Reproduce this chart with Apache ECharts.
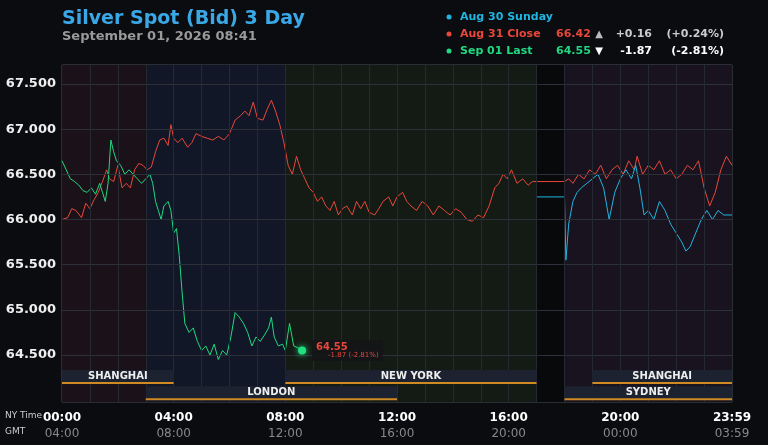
<!DOCTYPE html>
<html><head><meta charset="utf-8">
<script src="https://cdn.jsdelivr.net/npm/echarts@6/dist/echarts.min.js"></script>
<style>html,body{margin:0;padding:0;background:#0b0c10}#c{width:768px;height:445px}</style>
</head><body><div id="c"></div>
<script>
const yTicks=[64.5,65.0,65.5,66.0,66.5,67.0,67.5];
const xTickHours=[0,4,8,12,16,20,24];
const redClose=[[0,66.0],[.2,66.02],[.35,66.12],[.5,66.1],[.7,66.02],[.85,66.18],[1.0,66.12],[1.15,66.22],[1.3,66.3],[1.45,66.42],[1.6,66.55],[1.7,66.45],[1.85,66.42],[2.0,66.6],[2.15,66.35],[2.3,66.4],[2.45,66.35],[2.6,66.55],[2.75,66.62],[2.9,66.6],[3.05,66.55],[3.2,66.58],[3.35,66.75],[3.5,66.88],[3.65,66.9],[3.8,66.82],[3.9,67.05],[4.0,66.9],[4.15,66.85],[4.3,66.9],[4.5,66.8],[4.65,66.85],[4.8,66.95],[5.0,66.92],[5.2,66.9],[5.4,66.88],[5.6,66.92],[5.8,66.88],[6.0,66.95],[6.2,67.1],[6.4,67.15],[6.55,67.2],[6.7,67.15],[6.85,67.3],[7.0,67.12],[7.2,67.1],[7.35,67.22],[7.5,67.32],[7.65,67.2],[7.8,67.05],[7.95,66.85],[8.1,66.6],[8.25,66.5],[8.4,66.7],[8.55,66.55],[8.7,66.45],[8.85,66.35],[9.0,66.3],[9.15,66.2],[9.3,66.25],[9.45,66.15],[9.6,66.1],[9.75,66.2],[9.9,66.05],[10.05,66.12],[10.2,66.15],[10.4,66.05],[10.55,66.2],[10.7,66.12],[10.85,66.2],[11.0,66.08],[11.2,66.05],[11.35,66.12],[11.5,66.2],[11.7,66.25],[11.85,66.15],[12.0,66.25],[12.2,66.3],[12.35,66.2],[12.5,66.15],[12.7,66.1],[12.9,66.2],[13.1,66.15],[13.3,66.05],[13.5,66.15],[13.7,66.1],[13.9,66.05],[14.1,66.12],[14.3,66.08],[14.5,66.0],[14.7,65.98],[14.9,66.05],[15.1,66.02],[15.3,66.15],[15.5,66.35],[15.65,66.4],[15.8,66.5],[15.95,66.45],[16.1,66.55],[16.3,66.4],[16.5,66.45],[16.7,66.38],[16.85,66.42],[17.0,66.42],[18.0,66.42],[18.15,66.45],[18.3,66.4],[18.5,66.5],[18.7,66.45],[18.9,66.55],[19.1,66.5],[19.3,66.6],[19.5,66.45],[19.7,66.55],[19.9,66.6],[20.1,66.5],[20.3,66.65],[20.5,66.55],[20.6,66.7],[20.8,66.5],[21.0,66.6],[21.2,66.55],[21.4,66.65],[21.6,66.5],[21.8,66.55],[22.0,66.45],[22.2,66.5],[22.4,66.6],[22.6,66.55],[22.8,66.65],[23.0,66.35],[23.2,66.15],[23.4,66.3],[23.6,66.55],[23.8,66.7],[24,66.6]];
const greenLast=[[0,66.65],[.15,66.55],[.3,66.45],[.45,66.42],[.6,66.38],[.75,66.32],[.9,66.3],[1.05,66.35],[1.2,66.28],[1.35,66.4],[1.45,66.3],[1.55,66.2],[1.65,66.4],[1.75,66.88],[1.85,66.75],[1.95,66.65],[2.1,66.6],[2.25,66.5],[2.4,66.55],[2.55,66.5],[2.7,66.45],[2.85,66.4],[3.0,66.45],[3.15,66.5],[3.25,66.4],[3.35,66.2],[3.45,66.1],[3.55,66.0],[3.65,66.15],[3.8,66.2],[3.9,66.1],[4.0,65.85],[4.1,65.9],[4.2,65.6],[4.3,65.2],[4.4,64.85],[4.55,64.75],[4.7,64.8],[4.85,64.65],[5.0,64.55],[5.15,64.6],[5.3,64.5],[5.45,64.62],[5.6,64.45],[5.75,64.55],[5.9,64.5],[6.05,64.7],[6.2,64.97],[6.35,64.92],[6.5,64.85],[6.65,64.75],[6.8,64.6],[6.95,64.7],[7.1,64.65],[7.25,64.72],[7.4,64.8],[7.5,64.92],[7.6,64.7],[7.75,64.6],[7.9,64.62],[8.0,64.55],[8.15,64.85],[8.3,64.6],[8.45,64.58],[8.6,64.55]];
const cyanSunday=[[17,66.25],[18,66.25],[18.05,65.55],[18.15,65.95],[18.3,66.2],[18.45,66.3],[18.6,66.35],[18.8,66.4],[19.0,66.45],[19.2,66.5],[19.4,66.35],[19.6,66.0],[19.8,66.3],[20.0,66.45],[20.2,66.55],[20.4,66.45],[20.55,66.6],[20.7,66.35],[20.85,66.05],[21.0,66.1],[21.2,66.0],[21.4,66.2],[21.6,66.1],[21.8,65.95],[22.0,65.85],[22.2,65.75],[22.35,65.65],[22.5,65.7],[22.7,65.85],[22.9,66.0],[23.1,66.1],[23.3,66.0],[23.5,66.1],[23.7,66.05],[24,66.05]];
const sessions=[["SHANGHAI",0,4,0],["NEW YORK",8,17,0],["SHANGHAI",19,24,0],["LONDON",3,12,1],["SYDNEY",18,24,1]];
const sessionRowY=[64.18,64.0];
const bgZones=[[0,3,'#1b1219'],[3,8,'#111726'],[8,17,'#141b14'],[17,18,'#08090b'],[18,24,'#18131f']];
const hourLines=[1,2,3,4,5,6,7,8,9,10,11,12,13,14,15,16,17,18,19,20,21,22,23];
const fmt=h=>h===24?'23:59':String(h%24).padStart(2,'0')+':00';
const gmt=h=>h===24?'03:59':String((h+4)%24).padStart(2,'0')+':00';
const c=echarts.init(document.getElementById('c'));
const F='DejaVu Sans';
const T=(x,y,text,fill,font,align)=>({type:'text',x:x,y:y,style:{text:text,fill:fill,font:font,textAlign:align||'left',textVerticalAlign:'middle'}});
c.setOption({
 backgroundColor:'#0b0c10',animation:false,
 textStyle:{fontFamily:F},
 grid:{left:62,right:36,top:65,bottom:43,show:true,borderColor:'#4a4e58',borderWidth:1},
 xAxis:{type:'value',min:0,max:24,interval:1,axisLine:{show:false},axisTick:{show:false},
  splitLine:{show:false},
  axisLabel:{margin:8,formatter:v=>xTickHours.includes(v)?'{a|'+fmt(v)+'}\n{b|'+gmt(v)+'}':'',
   rich:{a:{color:'#fff',fontWeight:'bold',fontSize:12,fontFamily:F,lineHeight:16},b:{color:'#888',fontSize:12,fontFamily:F,lineHeight:16}}}},
 yAxis:{type:'value',min:63.98,max:67.71,splitLine:{show:false},axisLine:{show:false},axisTick:{show:false},axisLabel:{show:false}},
 graphic:[
  T(62,19,'Silver Spot (Bid) 3 Day','#3aa8e6','bold 19px DejaVu Sans'),
  T(62,37,'September 01, 2026 08:41','#9a9a9a','bold 13px DejaVu Sans'),
  {type:'circle',shape:{cx:449,cy:17,r:2.5},style:{fill:'#1fb5e0'}},
  {type:'circle',shape:{cx:449,cy:34,r:2.5},style:{fill:'#e8473a'}},
  {type:'circle',shape:{cx:449,cy:51,r:2.5},style:{fill:'#20d880'}},
  T(460,17,'Aug 30 Sunday','#1fb5e0','bold 11px DejaVu Sans'),
  T(460,34,'Aug 31 Close','#e8473a','bold 11px DejaVu Sans'),
  T(460,51,'Sep 01 Last','#20d880','bold 11px DejaVu Sans'),
  T(556,34,'66.42','#e8473a','bold 11px DejaVu Sans'),
  T(556,51,'64.55','#20d880','bold 11px DejaVu Sans'),
  T(599,34,'▲','#bbb','10px DejaVu Sans','center'),
  T(599,51,'▼','#fff','10px DejaVu Sans','center'),
  T(652,34,'+0.16','#ccc','bold 11px DejaVu Sans','right'),
  T(652,51,'-1.87','#fff','bold 11px DejaVu Sans','right'),
  T(724,34,'(+0.24%)','#ccc','bold 11px DejaVu Sans','right'),
  T(724,51,'(-2.81%)','#fff','bold 11px DejaVu Sans','right'),
  T(70,76,'USD/oz','#bbb','bold 10px DejaVu Sans'),
  T(722,76,'3 Day - High: 67.59  Low: 64.35','#aaa','bold 11px DejaVu Sans','right'),
  T(722,352,'kitco.com','#4a94d8','bold 20px DejaVu Sans','right'),
  T(5,416,'NY Time','#ccc','9px DejaVu Sans'),
  T(5,432,'GMT','#ccc','9px DejaVu Sans')
 ],
 series:[
  {type:'line',data:redClose,symbol:'none',lineStyle:{color:'#e8473a',width:1},z:3,
   markArea:{silent:true,data:bgZones.map(z=>[{xAxis:z[0],itemStyle:{color:z[2]}},{xAxis:z[1]}])},
   markLine:{silent:true,symbol:'none',label:{show:true,position:'start',distance:6,color:'#eee',fontWeight:'bold',fontSize:13,fontFamily:F,formatter:p=>p.value.toFixed(3)},
    lineStyle:{color:'#2c3039',type:'solid',width:1},
    data:yTicks.map(v=>({yAxis:v})).concat(hourLines.map(h=>({xAxis:h,label:{show:false},lineStyle:{color:'#252932',type:'solid',width:1}})))}},
  {type:'line',data:cyanSunday,symbol:'none',lineStyle:{color:'#1fb5e0',width:1},z:3},
  {type:'line',data:greenLast,symbol:'none',lineStyle:{color:'#20d880',width:1},z:4,
   markPoint:{symbol:'circle',symbolSize:8,itemStyle:{color:'#20e080',shadowBlur:6,shadowColor:'#20e080'},
    data:[{coord:greenLast[greenLast.length-1],
     label:{show:true,position:'right',distance:6,backgroundColor:'rgba(20,20,22,0.85)',padding:[2,4],
      formatter:'{a|64.55}\n{b|-1.87 (-2.81%)}',rich:{a:{color:'#e8473a',fontWeight:'bold',fontSize:10,fontFamily:F},b:{color:'#e8473a',fontSize:7,fontFamily:F,padding:[0,0,0,12]}}}}]}},
  {type:'custom',data:sessions.map(s=>[s[1],s[2],s[3]]),z:5,silent:true,
   renderItem:(p,api)=>{
    const i=p.dataIndex, s=sessions[i];
    const a=api.coord([api.value(0),sessionRowY[api.value(2)]]);
    const b=api.coord([api.value(1),sessionRowY[api.value(2)]]);
    return {type:'group',children:[
     {type:'rect',shape:{x:a[0],y:a[1]-14,width:b[0]-a[0],height:14},style:{fill:'#1c2230'}},
     {type:'rect',shape:{x:a[0],y:a[1]-2,width:b[0]-a[0],height:2},style:{fill:'#d08a22'}},
     {type:'text',style:{text:s[0],x:(a[0]+b[0])/2,y:a[1]-8,textAlign:'center',textVerticalAlign:'middle',fill:'#eee',font:'bold 10px DejaVu Sans'}}
    ]};
   }}
 ]
});
</script></body></html>
